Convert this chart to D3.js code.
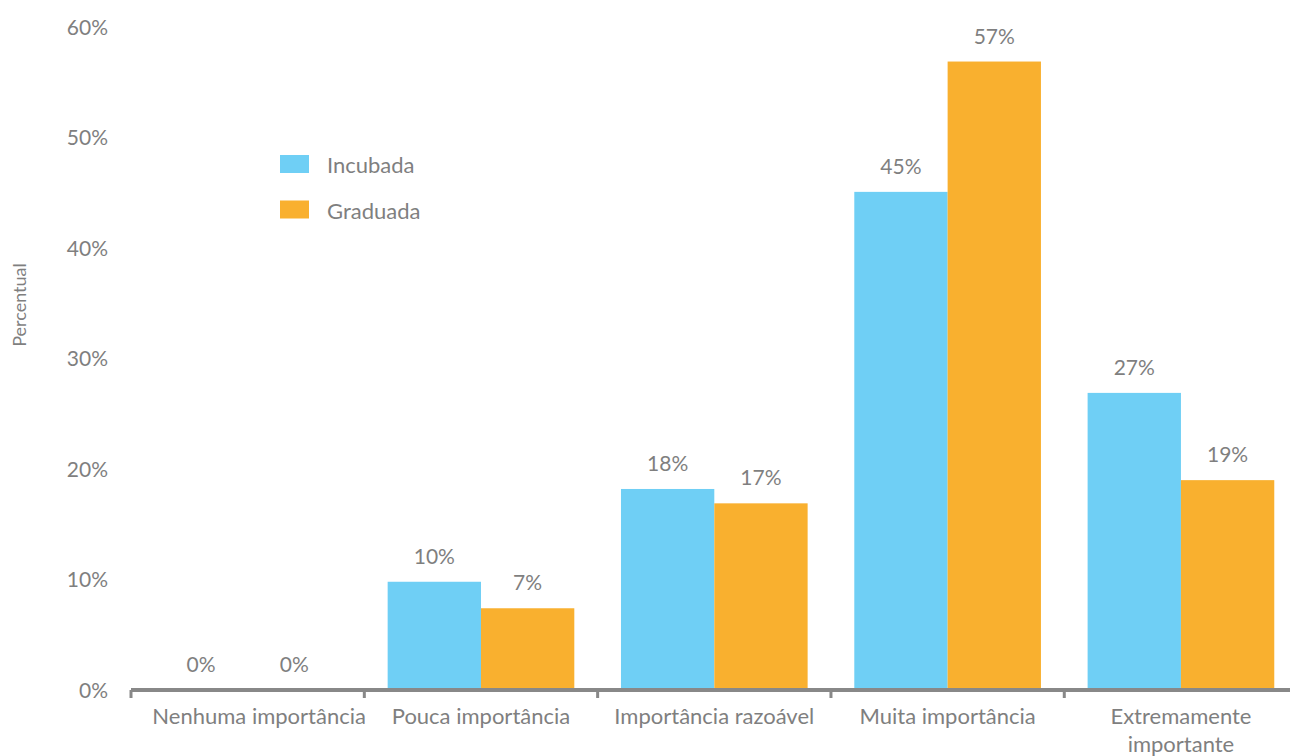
<!DOCTYPE html>
<html>
<head>
<meta charset="utf-8">
<script src="https://cdn.jsdelivr.net/npm/d3@7"></script>
<style>
  html, body { margin: 0; padding: 0; background: #fff; }
  svg { display: block; }
  text { font-family: Lato, "Noto Sans", sans-serif; fill: #7f7f7f; }
</style>
</head>
<body>
<svg id="chart" width="1290" height="756"></svg>
<script>
// Importance ratings by company status (share of respondents)
const categories = ["Nenhuma importância", "Pouca importância", "Importância razoável", "Muita importância", "Extremamente importante"];
const seriesNames = ["Incubada", "Graduada"];
const incubada = [0, 0.098, 0.182, 0.451, 0.269];
const graduada = [0, 0.074, 0.169, 0.569, 0.190];
const yTicks = [0, 0.1, 0.2, 0.3, 0.4, 0.5, 0.6];
const colors = ["#6fcff5", "#f9b02f"];

const svg = d3.select("#chart");

const x = d3.scaleBand()
  .domain(categories)
  .range([131, 1297.6])
  .paddingInner(0.2)
  .paddingOuter(0.1);

const xSeries = d3.scaleBand()
  .domain(seriesNames)
  .range([0, x.bandwidth()]);

const y = d3.scaleLinear()
  .domain([0, 0.6])
  .range([690, 27.3]);

const pct = d3.format(".0%");

// Y tick labels (no axis line or gridlines)
const yAxis = svg.append("g")
  .attr("transform", "translate(108,0)")
  .call(d3.axisLeft(y).tickValues(yTicks).tickFormat(pct).tickSize(0).tickPadding(0));
yAxis.select(".domain").remove();
yAxis.selectAll("text")
  .style("font-size", "21px")
  .attr("fill", "#7f7f7f")
  .attr("dy", "0.34em");

// Y title
svg.append("text")
  .attr("transform", "translate(26,305) rotate(-90)")
  .attr("text-anchor", "middle")
  .style("font-size", "18px")
  .text("Percentual");

// Bars
const rows = categories.map((c, i) => ({ cat: c, values: [incubada[i], graduada[i]] }));
const groups = svg.append("g").selectAll("g")
  .data(rows)
  .join("g")
  .attr("transform", d => `translate(${x(d.cat)},0)`);

groups.selectAll("rect")
  .data(d => d.values.map((v, k) => ({ name: seriesNames[k], v, k })))
  .join("rect")
  .attr("x", d => xSeries(d.name))
  .attr("width", xSeries.bandwidth())
  .attr("y", d => y(d.v))
  .attr("height", d => y(0) - y(d.v))
  .attr("fill", d => colors[d.k]);

groups.selectAll("text.val")
  .data(d => d.values.map((v, k) => ({ name: seriesNames[k], v, k })))
  .join("text")
  .attr("class", "val")
  .attr("x", d => xSeries(d.name) + xSeries.bandwidth() / 2)
  .attr("y", d => y(d.v) - 25)
  .attr("dy", "0.34em")
  .attr("text-anchor", "middle")
  .style("font-size", "21px")
  .text(d => pct(d.v));

// X axis baseline with ticks at category boundaries
const axisColor = "#888888";
svg.append("line")
  .attr("x1", 131).attr("x2", 1297.6)
  .attr("y1", y(0)).attr("y2", y(0))
  .attr("stroke", axisColor).attr("stroke-width", 4);

const boundaries = categories.map(c => x(c) - x.step() * x.paddingInner() / 2);
boundaries[0] = 131;
svg.append("g").selectAll("line")
  .data(boundaries)
  .join("line")
  .attr("x1", d => d).attr("x2", d => d)
  .attr("y1", y(0)).attr("y2", y(0) + 8)
  .attr("stroke", axisColor).attr("stroke-width", 3);

// Category labels, wrapped when too wide for the band;
// a label is kept from running left of the first bar group
const lineBreaks = { "Extremamente importante": ["Extremamente", "importante"] };
const minLeft = x(categories[0]) - 2;
svg.append("g").selectAll("text")
  .data(categories)
  .join("text")
  .attr("y", 717)
  .attr("text-anchor", "middle")
  .style("font-size", "22px")
  .each(function (d) {
    const lines = lineBreaks[d] || [d];
    const t = d3.select(this);
    t.selectAll("tspan")
      .data(lines)
      .join("tspan")
      .attr("dy", (l, i) => i === 0 ? "0.34em" : "28px")
      .text(l => l);
    const w = this.getComputedTextLength ? d3.max(t.selectAll("tspan").nodes(), n => n.getComputedTextLength()) : 0;
    let cx = x(d) + x.bandwidth() / 2;
    if (cx - w / 2 < minLeft) cx = minLeft + w / 2;
    t.selectAll("tspan").attr("x", cx);
  });

// Legend
const legend = svg.append("g").attr("transform", "translate(280,155)");
seriesNames.forEach((name, i) => {
  const g = legend.append("g").attr("transform", `translate(0,${i * 45.5})`);
  g.append("rect").attr("width", 29).attr("height", 18).attr("fill", colors[i]);
  g.append("text")
    .attr("x", 47).attr("y", 11)
    .attr("dy", "0.34em")
    .style("font-size", "22px")
    .text(name);
});
</script>
</body>
</html>
